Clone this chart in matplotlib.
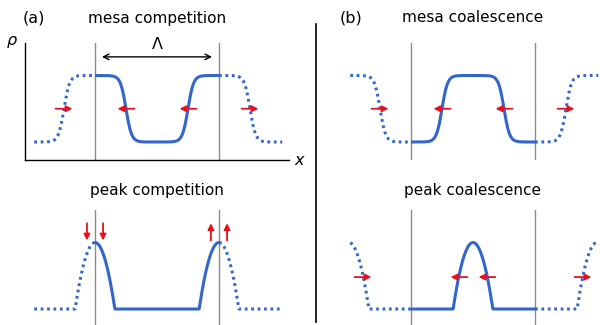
import numpy as np
import matplotlib.pyplot as plt

# schematic profiles, x in units of the period Lambda, rho from 0 (low) to 1 (high)
mesa_comp_edges = [(-0.25, 0.25), (0.75, 1.25)]
mesa_coal_edges = [(-0.75, -0.25), (0.25, 0.75), (1.25, 1.75)]
peak_comp_centers = [0.0, 1.0]
peak_coal_centers = [-0.5, 0.5, 1.5]
mesa_width = 0.045
peak_halfwidth = 0.16
dotted_range = [(-0.49, 0.0), (1.0, 1.51)]

# red arrows: (position, direction)
mesa_comp_arrows = [(-0.25, 1), (0.25, -1), (0.75, -1), (1.25, 1)]
mesa_coal_arrows = [(-0.25, 1), (0.25, -1), (0.75, -1), (1.25, 1)]
peak_coal_arrows = [(-0.5 + 0.113, 1), (0.5 - 0.113, -1), (0.5 + 0.113, -1), (1.5 - 0.113, 1)]
peak_comp_arrows = [(0.0, -1), (1.0, 1)]  # vertical pairs: down / up

titles = ['mesa competition', 'mesa coalescence', 'peak competition', 'peak coalescence']

blue = '#3366cc'
red = '#e8101c'
gray = '#8a8a8a'

W, H = 600, 325
fig = plt.figure(figsize=(6, 3.25), dpi=100)


def panel(l, r, t, b, x0, y0, sx=124, sy=66.5):
    ax = fig.add_axes([l / W, 1 - b / H, (r - l) / W, (b - t) / H])
    ax.set_xlim((l - x0) / sx, (r - x0) / sx)
    ax.set_ylim((y0 - b) / sy, (y0 - t) / sy)
    for s in ax.spines.values():
        s.set_visible(False)
    ax.set_xticks([])
    ax.set_yticks([])
    ax.patch.set_alpha(0)
    return ax


def mesa(edges):
    return lambda x: sum(0.5 * (np.tanh((x - a) / mesa_width) - np.tanh((x - b) / mesa_width)) for a, b in edges)


def peak(centers):
    return lambda x: sum(np.clip(1 - ((x - c) / peak_halfwidth) ** 2, 0, None) for c in centers)


def draw(ax, f):
    ax.axvline(0, color=gray, lw=1.0, zorder=1)
    ax.axvline(1, color=gray, lw=1.0, zorder=1)
    xs = np.linspace(0, 1, 500)
    ax.plot(xs, f(xs), color=blue, lw=2.2, zorder=2, solid_capstyle='butt')
    for lo, hi in dotted_range:
        xs = np.linspace(lo, hi, 300)
        ax.plot(xs, f(xs), color=blue, lw=2.2, ls=(0, (0.9, 1.2)), zorder=2)


arrow_kw = dict(arrowstyle='-|>', color=red, lw=1.3, mutation_scale=9, shrinkA=0, shrinkB=0)


def harrows(ax, arrows, y, half=0.068):
    for p, d in arrows:
        ax.annotate('', xy=(p + d * half, y), xytext=(p - d * half, y),
                    arrowprops=arrow_kw, zorder=3)


axA = panel(25, 289, 43, 160, 95, 142)
axB = panel(330, 600, 43, 160, 411, 142)
axC = panel(25, 300, 210, 325, 95, 309)
axD = panel(330, 600, 210, 325, 411, 309)

axA.spines['left'].set_visible(True)
axA.spines['bottom'].set_visible(True)
axA.spines['left'].set_linewidth(1.0)
axA.spines['bottom'].set_linewidth(1.0)

draw(axA, mesa(mesa_comp_edges))
draw(axB, mesa(mesa_coal_edges))
draw(axC, peak(peak_comp_centers))
draw(axD, peak(peak_coal_centers))

harrows(axA, mesa_comp_arrows, 0.5)
harrows(axB, mesa_coal_arrows, 0.5)
harrows(axD, peak_coal_arrows, 0.48)

for p, d in peak_comp_arrows:
    for dx in (-0.065, 0.065):
        y_from, y_to = (1.29, 1.03) if d < 0 else (1.03, 1.29)
        axC.annotate('', xy=(p + dx, y_to), xytext=(p + dx, y_from),
                     arrowprops=arrow_kw, zorder=3)

# period arrow
axA.annotate('', xy=(0.944, 1.28), xytext=(0.056, 1.28),
             arrowprops=dict(arrowstyle='<->', color='k', lw=1.0, mutation_scale=10,
                             shrinkA=0, shrinkB=0))
axA.text(0.5, 1.47, 'Λ', ha='center', va='center', fontsize=11.5)

# texts
fs = 11
fig.text(157 / W, 1 - 18 / H, titles[0], ha='center', va='center', fontsize=fs)
fig.text(473 / W, 1 - 18 / H, titles[1], ha='center', va='center', fontsize=fs)
fig.text(157 / W, 1 - 191 / H, titles[2], ha='center', va='center', fontsize=fs)
fig.text(473 / W, 1 - 191 / H, titles[3], ha='center', va='center', fontsize=fs)
fig.text(34 / W, 1 - 18 / H, '(a)', ha='center', va='center', fontsize=fs + 0.5)
fig.text(351 / W, 1 - 18 / H, '(b)', ha='center', va='center', fontsize=fs + 0.5)
fig.text(12 / W, 1 - 42 / H, r'$\rho$', ha='center', va='center', fontsize=11.5)
fig.text(300 / W, 1 - 161 / H, r'$x$', ha='center', va='center', fontsize=11.5)

# divider
fig.add_artist(plt.Line2D([315.5 / W] * 2, [1 - 24 / H, 1 - 322 / H], color='k', lw=1.2))

fig.savefig('out.png', dpi=100)
